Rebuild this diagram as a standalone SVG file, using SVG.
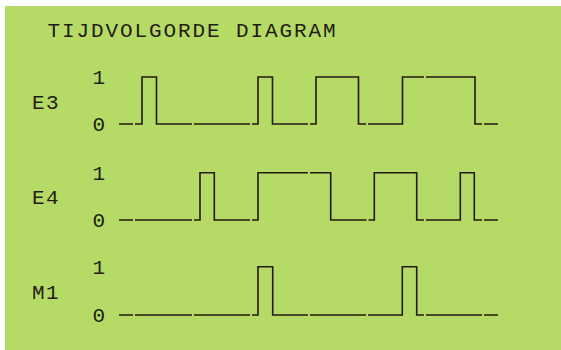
<svg xmlns="http://www.w3.org/2000/svg" width="561" height="350" viewBox="0 0 561 350">
  <style>
    .t { font-family: "Liberation Mono", "DejaVu Sans Mono", monospace; font-size: 21px; fill: #231c14; }
    .title { letter-spacing: 1.9px; }
    .lbl { letter-spacing: 1.4px; }
    .d { text-anchor: middle; }
    .w { fill: none; stroke: #241a12; stroke-width: 1.6; stroke-linejoin: miter; stroke-linecap: butt; }
  </style>
  <rect x="0" y="0" width="561" height="350" fill="#ffffff"/>
  <rect x="5" y="6" width="556" height="344" fill="#b5db66"/>

  <g id="title">
    <text class="t title" x="47.5" y="36.5">TIJDVOLGORDE DIAGRAM</text>
  </g>

  <g id="E3">
    <text class="t lbl" x="32" y="108.5">E3</text>
    <text class="t d" x="98.8" y="84">1</text>
    <text class="t d" x="98.8" y="131">0</text>
    <path class="w" d="M119 124H133 M135 124H142V77H156.5V124H192 M194 124H250 M252 124H258V77H272.5V124H308 M310 124H316V77H358.5V124H366 M368 124H402.5V77H424 M426 77H475V124H482 M484 124H498"/>
  </g>

  <g id="E4">
    <text class="t lbl" x="32" y="204">E4</text>
    <text class="t d" x="98.8" y="180">1</text>
    <text class="t d" x="98.8" y="227">0</text>
    <path class="w" d="M119 220H133 M135 220H192 M194 220H200V172.7H214.3V220H250 M252 220H258V172.7H308 M310 172.7H330.7V220H366.5 M368.5 220H374.3V172.7H416.7V220H424 M426 220H460.3V172.7H474.3V220H482 M484 220H498"/>
  </g>

  <g id="M1">
    <text class="t lbl" x="32" y="299">M1</text>
    <text class="t d" x="98.8" y="274">1</text>
    <text class="t d" x="98.8" y="322">0</text>
    <path class="w" d="M119 315H133 M135 315H192 M194 315H250 M252 315H258V266.7H272.7V315H308 M310 315H366 M368 315H402.3V266.7H416.7V315H424 M426 315H482 M484 315H498"/>
  </g>
</svg>
